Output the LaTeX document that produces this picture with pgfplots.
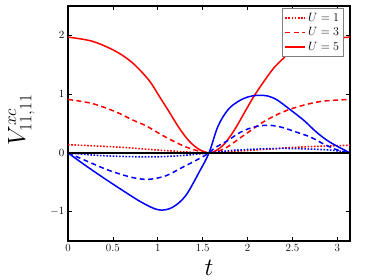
\documentclass[border=0pt]{standalone}
\usepackage{pgfplots}
\pgfplotsset{compat=1.18}
\begin{document}
\begin{tikzpicture}
\useasboundingbox (-68pt,-39pt) rectangle (306pt,241pt);
\begin{axis}[
  at={(0,0)}, anchor=south west,
  scale only axis, width=282pt, height=235pt,
  xmin=0, xmax=3.1416, ymin=-1.5, ymax=2.5,
  xtick={0,0.5,1,1.5,2,2.5,3},
  xticklabels={0,0.5,1,1.5,2,2.5,3},
  ytick={-1,0,1,2},
  tick align=inside, major tick length=4pt,
  tick style={black, line width=0.6pt},
  xtick pos=both, ytick pos=both,
  axis line style={black, line width=1.6pt},
  ticklabel style={font=\fontsize{11}{13}\selectfont},
  xlabel={$t$}, ylabel={$V^{xc}_{11,11}$},
  xlabel style={font=\fontsize{24}{28}\selectfont, at={(axis description cs:0.5,-0.115)}, anchor=center},
  ylabel style={font=\fontsize{24}{28}\selectfont, at={(axis description cs:-0.165,0.515)}, anchor=center, rotate=0},
  legend style={at={(0.978,0.99)}, anchor=north east, draw=gray, fill=white,
    font=\fontsize{13}{15}\selectfont, inner sep=2.5pt, row sep=1pt},
  legend image code/.code={\draw[#1, line width=1.8pt] (0pt,0pt) -- (20pt,0pt);},
  legend cell align=left,
  every axis plot/.append style={smooth, tension=0.55},
]
% red U=1 dotted
\addplot[red, line width=1.5pt, dash pattern=on 1.6pt off 1.6pt] coordinates {
(0,0.14) (0.53,0.10) (0.9,0.06) (1.27,0.02) (1.5708,0) (1.9,0.03) (2.2,0.06) (2.6,0.10) (3.1416,0.13)};
% red U=3 dashed
\addplot[red, line width=1.5pt, dash pattern=on 5pt off 3.5pt] coordinates {
(0,0.91) (0.27,0.84) (0.53,0.70) (0.72,0.56) (0.87,0.46) (1.05,0.30) (1.24,0.15) (1.39,0.06) (1.5708,0)
(1.74,0.07) (1.96,0.30) (2.18,0.53) (2.40,0.70) (2.62,0.81) (2.84,0.88) (3.1416,0.91)};
% red U=5 solid
\addplot[red, line width=1.5pt] coordinates {
(0,1.97) (0.27,1.90) (0.53,1.73) (0.72,1.53) (0.90,1.24) (1.01,0.98) (1.13,0.69) (1.24,0.42) (1.35,0.20) (1.46,0.06) (1.5708,0)
(1.65,0.04) (1.74,0.15) (1.85,0.38) (1.96,0.67) (2.07,0.96) (2.18,1.21) (2.29,1.44) (2.40,1.61) (2.50,1.76) (2.62,1.86) (2.80,1.93) (3.1416,1.97)};
\legend{$U=1$,$U=3$,$U=5$}
% blue U=1 dotted
\addplot[blue, line width=1.5pt, dash pattern=on 1.6pt off 1.6pt, forget plot] coordinates {
(0,0) (0.35,-0.045) (0.9,-0.07) (1.27,-0.045) (1.5708,0) (1.9,0.05) (2.4,0.075) (2.9,0.05) (3.1416,0)};
% blue U=3 dashed
\addplot[blue, line width=1.5pt, dash pattern=on 5pt off 3.5pt, forget plot] coordinates {
(0,0) (0.24,-0.16) (0.46,-0.30) (0.72,-0.42) (0.9,-0.45) (1.09,-0.39) (1.27,-0.25) (1.46,-0.10) (1.5708,0)
(1.63,0.08) (1.78,0.21) (1.92,0.35) (2.07,0.44) (2.22,0.47) (2.37,0.44) (2.55,0.35) (2.70,0.27) (2.85,0.15) (3.0,0.05) (3.1416,0)};
% blue U=5 solid
\addplot[blue, line width=1.5pt, forget plot] coordinates {
(0,0) (0.2,-0.22) (0.42,-0.45) (0.64,-0.67) (0.83,-0.85) (1.01,-0.97) (1.16,-0.93) (1.31,-0.73) (1.46,-0.33) (1.5708,0)
(1.67,0.45) (1.78,0.73) (1.89,0.87) (2.0,0.95) (2.11,0.98) (2.22,0.97) (2.33,0.90) (2.48,0.73) (2.63,0.55) (2.77,0.35) (2.92,0.18) (3.1416,0)};
% zero line
\addplot[black, line width=1.6pt, forget plot, sharp plot] coordinates {(0,0) (3.1416,0)};
\end{axis}
\end{tikzpicture}
\end{document}
